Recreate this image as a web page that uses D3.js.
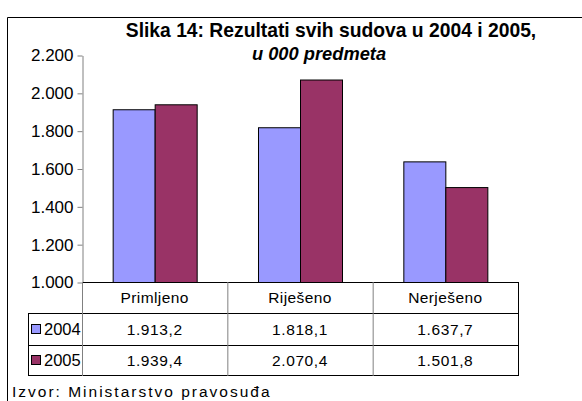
<!DOCTYPE html>
<html><head><meta charset="utf-8">
<script src="https://cdn.jsdelivr.net/npm/d3@7"></script>
<style>body{margin:0;background:#fff}svg{display:block;font-family:"Liberation Sans",Arial,sans-serif}</style>
</head><body>
<svg id="c" width="582" height="401"></svg>
<script>
const categories = ["Primljeno", "Riješeno", "Nerješeno"];
const seriesNames = ["2004", "2005"];
const values2004 = [1913.2, 1818.1, 1637.7];
const values2005 = [1939.4, 2070.4, 1501.8];
const yTicks = [1000, 1200, 1400, 1600, 1800, 2000, 2200];
const titleText = "Slika 14: Rezultati svih sudova u 2004 i 2005,";
const subtitleText = "u 000 predmeta";
const sourceText = "Izvor: Ministarstvo pravosuđa";
const colors = ["#9999FF", "#993366"];

(function () {
const seriesValues = [values2004, values2005];
const loc = d3.formatLocale({decimal: ",", thousands: ".", grouping: [3], currency: ["", ""]});
const fmtTick = loc.format(",.0f");
const fmtVal = loc.format(",.1f");

const svg = d3.select("#c");
svg.append("rect").attr("width", 582).attr("height", 401).attr("fill", "#fff");
svg.append("path").attr("d", "M7.5,420 V17.5 H600").attr("fill", "none").attr("stroke", "#000").attr("stroke-width", 1);

const pl = 82, pr = 518, pt = 55, base = 282;
const x = d3.scaleBand().domain(categories).range([pl, pr]).padding(0);
const xi = d3.scaleBand().domain(seriesNames).range([0, x.bandwidth()]).paddingInner(0).paddingOuter(0.73);
const y = d3.scaleLinear().domain([1000, 2200]).range([base, pt]);

svg.append("text").attr("x", 331).attr("y", 37).attr("text-anchor", "middle")
  .attr("font-size", 19.3).attr("font-weight", "bold").attr("fill", "#000").text(titleText);
svg.append("text").attr("x", 319).attr("y", 60).attr("text-anchor", "middle")
  .attr("font-size", 18.3).attr("font-weight", "bold").attr("font-style", "italic").attr("fill", "#000").text(subtitleText);

seriesNames.forEach((s, si) => {
  svg.append("g").selectAll("rect").data(categories).join("rect")
    .attr("x", (c) => x(c) + xi(s) + 0.5)
    .attr("y", (c, i) => y(seriesValues[si][i]) + 0.5)
    .attr("width", xi.bandwidth())
    .attr("height", (c, i) => base - y(seriesValues[si][i]))
    .attr("fill", colors[si]).attr("stroke", "#000").attr("stroke-width", 1);
});

const ax = svg.append("g").attr("transform", `translate(${pl + 0.5},0.5)`)
  .call(d3.axisLeft(y).tickValues(yTicks).tickSize(5).tickSizeOuter(0).tickPadding(4).tickFormat(fmtTick));
ax.select(".domain").attr("stroke", "#808080");
ax.selectAll(".tick line").attr("stroke", "#808080");
ax.selectAll(".tick text").attr("font-size", 17).attr("font-family", "Liberation Sans, Arial, sans-serif").attr("fill", "#000");

const rowY = [base, 313, 345, 375];
const legLeft = 28;
const g = svg.append("g").attr("stroke", "#000").attr("stroke-width", 1).attr("fill", "none");
g.append("line").attr("x1", pl).attr("x2", pr).attr("y1", rowY[0] + 0.5).attr("y2", rowY[0] + 0.5);
[1, 2, 3].forEach(r => g.append("line").attr("x1", legLeft).attr("x2", pr).attr("y1", rowY[r] + 0.5).attr("y2", rowY[r] + 0.5));
categories.forEach(c => g.append("line").attr("x1", x(c) + 0.5).attr("x2", x(c) + 0.5).attr("y1", rowY[0]).attr("y2", rowY[3] + 1).attr("stroke", "#808080"));
g.append("line").attr("x1", pr + 0.5).attr("x2", pr + 0.5).attr("y1", rowY[0]).attr("y2", rowY[3] + 1);
g.append("line").attr("x1", legLeft + 0.5).attr("x2", legLeft + 0.5).attr("y1", rowY[1]).attr("y2", rowY[3] + 1);

svg.append("g").selectAll("text").data(categories).join("text")
  .attr("x", c => x(c) + x.bandwidth() / 2).attr("y", (rowY[0] + rowY[1]) / 2 + 5.5)
  .attr("text-anchor", "middle").attr("font-size", 15.5).attr("letter-spacing", 0.4).attr("fill", "#000").text(c => c);

seriesNames.forEach((s, si) => {
  const cy = (rowY[si + 1] + rowY[si + 2]) / 2;
  svg.append("rect").attr("x", 31.5).attr("y", cy - 4.5).attr("width", 9).attr("height", 9)
    .attr("fill", colors[si]).attr("stroke", "#000");
  svg.append("text").attr("x", 44).attr("y", cy + 6).attr("font-size", 16.5).attr("fill", "#000").text(s);
  svg.append("g").selectAll("text").data(categories).join("text")
    .attr("x", c => x(c) + x.bandwidth() / 2).attr("y", cy + 5.5)
    .attr("text-anchor", "middle").attr("font-size", 15.5).attr("letter-spacing", 0.6).attr("fill", "#000")
    .text((c, i) => fmtVal(seriesValues[si][i]));
});

svg.append("text").attr("x", 12).attr("y", 397).attr("font-size", 15.5).attr("letter-spacing", 2).attr("fill", "#000").text(sourceText);
})();
</script>
</body></html>
